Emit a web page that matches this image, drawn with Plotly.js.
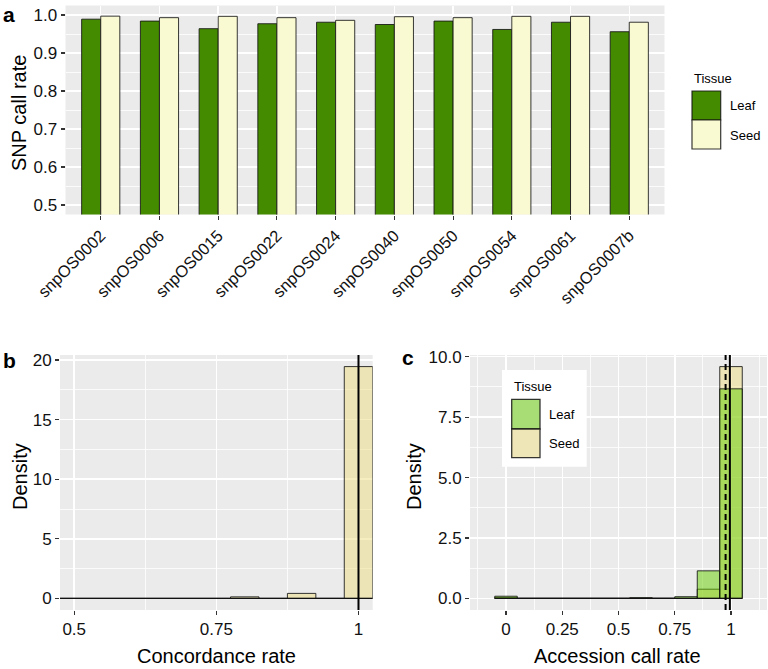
<!DOCTYPE html>
<html>
<head>
<meta charset="utf-8">
<script src="https://cdn.plot.ly/plotly-3.0.1.min.js"></script>
<style>html,body{margin:0;padding:0;background:#fff;}#chart{width:768px;height:669px;}</style>
</head>
<body>
<div id="chart"></div>
<script>
// ---------- Data ----------
// Panel a: SNP call rate per marker
const markers = ['snpOS0002','snpOS0006','snpOS0015','snpOS0022','snpOS0024','snpOS0040','snpOS0050','snpOS0054','snpOS0061','snpOS0007b'];
const leafCallRate = [0.989, 0.984, 0.964, 0.977, 0.981, 0.975, 0.984, 0.962, 0.981, 0.956];
const seedCallRate = [0.997, 0.993, 0.9965, 0.993, 0.986, 0.9955, 0.993, 0.9965, 0.9965, 0.981];
const aTicks = [0.5, 0.6, 0.7, 0.8, 0.9, 1.0];
const aTickText = ['0.5', '0.6', '0.7', '0.8', '0.9', '1.0'];

// Panel b: concordance rate histogram (density), bin width 0.05
const concBins = [0.5, 0.55, 0.6, 0.65, 0.7, 0.75, 0.8, 0.85, 0.9, 0.95, 1.0];
const concDensity = [0, 0, 0, 0, 0, 0, 0.13, 0, 0.42, 0, 19.45];
const concBinWidth = 0.05;
const concLine = 1;
const bXTicks = [0.5, 0.75, 1];
const bXTickText = ['0.5', '0.75', '1'];
const bYTicks = [0, 5, 10, 15, 20];
const bYTickText = ['0', '5', '10', '15', '20'];

// Panel c: accession call rate histogram (density) by tissue, bin width 0.1
const accBins = [0, 0.1, 0.2, 0.3, 0.4, 0.5, 0.6, 0.7, 0.8, 0.9, 1.0];
const accLeafDensity = [0.09, 0, 0, 0, 0, 0, 0.03, 0, 0.07, 1.14, 8.67];
const accSeedDensity = [0.03, 0, 0, 0, 0, 0, 0, 0, 0, 0.38, 9.59];
const accBinWidth = 0.1;
const accLeafLine = 0.976;  // dashed
const accSeedLine = 0.995;  // solid
const cXTicks = [0, 0.25, 0.5, 0.75, 1];
const cXTickText = ['0', '0.25', '0.5', '0.75', '1'];
const cYTicks = [0, 2.5, 5, 7.5, 10];
const cYTickText = ['0.0', '2.5', '5.0', '7.5', '10.0'];

// ---------- Styling helpers ----------
const W = 768, H = 669;
const FONT = 'Liberation Sans, Arial, Helvetica, sans-serif';
const px = x => x / W;
const py = y => 1 - y / H;

const LEAF_A = '#458B00', SEED_A = '#FAFAD2';
const LEAF_C = 'rgba(102,205,0,0.5)', SEED_C = 'rgba(238,221,130,0.5)';
const OUTLINE = 'rgba(20,20,20,0.85)';

function axis(extra) {
  return Object.assign({
    showgrid: true, gridcolor: '#FFFFFF', gridwidth: 1.5,
    zeroline: false, showline: false,
    ticks: 'outside', ticklen: 4, tickwidth: 1.1, tickcolor: '#333333',
    tickfont: {family: FONT, size: 17, color: '#111111'},
    automargin: false, fixedrange: true
  }, extra);
}
const minorGrid = (tick0, dtick) => ({tickmode: 'linear', tick0: tick0, dtick: dtick, showgrid: true, gridcolor: '#FFFFFF', gridwidth: 0.8, ticks: ''});

// ---------- Traces ----------
const traces = [];
// Panel a
traces.push({type: 'bar', x: markers, y: leafCallRate, xaxis: 'x', yaxis: 'y', name: 'Leaf',
  width: 0.325, offset: -0.325, marker: {color: LEAF_A, line: {color: OUTLINE, width: 1}}, showlegend: false});
traces.push({type: 'bar', x: markers, y: seedCallRate, xaxis: 'x', yaxis: 'y', name: 'Seed',
  width: 0.325, offset: 0, marker: {color: SEED_A, line: {color: OUTLINE, width: 1}}, showlegend: false});

// Panel b baseline + bars
traces.push({type: 'scatter', mode: 'lines', xaxis: 'x2', yaxis: 'y2', showlegend: false,
  x: [concBins[0] - concBinWidth / 2, concBins[concBins.length - 1] + concBinWidth / 2], y: [0, 0],
  line: {color: '#111', width: 1.2}});
traces.push({type: 'bar', x: concBins, y: concDensity, width: concBinWidth, xaxis: 'x2', yaxis: 'y2', showlegend: false,
  marker: {color: SEED_C, line: {color: OUTLINE, width: 1}}});

// Panel c baseline + bars
traces.push({type: 'scatter', mode: 'lines', xaxis: 'x3', yaxis: 'y3', showlegend: false,
  x: [accBins[0] - accBinWidth / 2, accBins[accBins.length - 1] + accBinWidth / 2], y: [0, 0],
  line: {color: '#111', width: 1.2}});
traces.push({type: 'bar', x: accBins, y: accSeedDensity, width: accBinWidth, xaxis: 'x3', yaxis: 'y3', showlegend: false, name: 'Seed',
  marker: {color: SEED_C, line: {color: OUTLINE, width: 1}}});
traces.push({type: 'bar', x: accBins, y: accLeafDensity, width: accBinWidth, xaxis: 'x3', yaxis: 'y3', showlegend: false, name: 'Leaf',
  marker: {color: LEAF_C, line: {color: OUTLINE, width: 1}}});

// ---------- Layout ----------
const layout = {
  width: W, height: H,
  margin: {l: 0, r: 0, t: 0, b: 0, pad: 0},
  paper_bgcolor: '#FFFFFF', plot_bgcolor: '#EBEBEB',
  barmode: 'overlay', bargap: 0,
  showlegend: false,
  font: {family: FONT, color: '#000'},
  xaxis: axis({domain: [px(65.5), px(664.5)], anchor: 'y', type: 'category', range: [-0.6, 9.6],
    tickangle: -45, tickfont: {family: FONT, size: 16.5, color: '#111111'}}),
  yaxis: axis({domain: [py(214.5), py(5.5)], anchor: 'x', range: [0.475, 1.025],
    tickmode: 'array', tickvals: aTicks, ticktext: aTickText, minor: minorGrid(0.5, 0.05)}),
  xaxis2: axis({domain: [px(60), px(372.7)], anchor: 'y2', range: [0.475, 1.025],
    tickmode: 'array', tickvals: bXTicks, ticktext: bXTickText, minor: minorGrid(0.5, 0.125)}),
  yaxis2: axis({domain: [py(610), py(355)], anchor: 'x2', range: [-0.9725, 20.4225],
    tickmode: 'array', tickvals: bYTicks, ticktext: bYTickText, minor: minorGrid(0, 2.5)}),
  xaxis3: axis({domain: [px(470), px(767)], anchor: 'y3', range: [-0.16, 1.16],
    tickmode: 'array', tickvals: cXTicks, ticktext: cXTickText, minor: minorGrid(0, 0.125)}),
  yaxis3: axis({domain: [py(610), py(355)], anchor: 'x3', range: [-0.48, 10.07],
    tickmode: 'array', tickvals: cYTicks, ticktext: cYTickText, minor: minorGrid(0, 1.25)}),
  shapes: [],
  annotations: []
};

// Reference lines
layout.shapes.push({type: 'line', xref: 'x2', yref: 'y2 domain', x0: concLine, x1: concLine, y0: 0, y1: 1,
  line: {color: '#000', width: 2}});
layout.shapes.push({type: 'line', xref: 'x3', yref: 'y3 domain', x0: accLeafLine, x1: accLeafLine, y0: 0, y1: 1,
  line: {color: '#000', width: 2, dash: '6px,4px'}});
layout.shapes.push({type: 'line', xref: 'x3', yref: 'y3 domain', x0: accSeedLine, x1: accSeedLine, y0: 0, y1: 1,
  line: {color: '#000', width: 2}});

// Text helpers
function txt(text, x, y, size, opts) {
  return Object.assign({text: text, xref: 'paper', yref: 'paper', x: px(x), y: py(y), showarrow: false,
    xanchor: 'center', yanchor: 'middle', font: {family: FONT, size: size, color: '#000'}}, opts || {});
}
const A = layout.annotations;
// Panel letters
A.push(txt('<b>a</b>', 9, 15, 21));
A.push(txt('<b>b</b>', 9.5, 360, 21));
A.push(txt('<b>c</b>', 408, 357, 21));
// Axis titles
A.push(txt('SNP call rate', 19, 113, 20, {textangle: -90}));
A.push(txt('Density', 20, 477, 20, {textangle: -90}));
A.push(txt('Concordance rate', 216, 656, 20));
A.push(txt('Density', 414, 477, 20, {textangle: -90}));
A.push(txt('Accession call rate', 617, 656, 20));

// Legend a (Tissue: Leaf / Seed)
function rect(x0, y0, x1, y1, fill, lineColor, lw) {
  return {type: 'rect', xref: 'paper', yref: 'paper', x0: px(x0), x1: px(x1), y0: py(y1), y1: py(y0),
    fillcolor: fill, line: {color: lineColor, width: lw}, layer: 'above'};
}
layout.shapes.push(rect(692, 91, 720.7, 120, LEAF_A, OUTLINE, 1.2));
layout.shapes.push(rect(692, 120, 720.7, 149, SEED_A, OUTLINE, 1.2));
A.push(txt('Tissue', 692, 78, 13, {xanchor: 'left'}));
A.push(txt('Leaf', 728, 106, 13, {xanchor: 'left'}));
A.push(txt('Seed', 728, 135, 13, {xanchor: 'left'}));

// Legend c (inside panel)
layout.shapes.push(rect(502, 370, 586.7, 466.7, '#FFFFFF', 'rgba(0,0,0,0)', 0));
layout.shapes.push(rect(511.7, 399.3, 540, 429, '#A8DC74', OUTLINE, 1.3));
layout.shapes.push(rect(511.7, 429, 540, 457.7, '#EEE6B7', OUTLINE, 1.3));
A.push(txt('Tissue', 511.7, 386, 13, {xanchor: 'left'}));
A.push(txt('Leaf', 547, 414.7, 13, {xanchor: 'left'}));
A.push(txt('Seed', 547, 443.3, 13, {xanchor: 'left'}));

Plotly.newPlot('chart', traces, layout, {displayModeBar: false, staticPlot: true});
</script>
</body>
</html>
